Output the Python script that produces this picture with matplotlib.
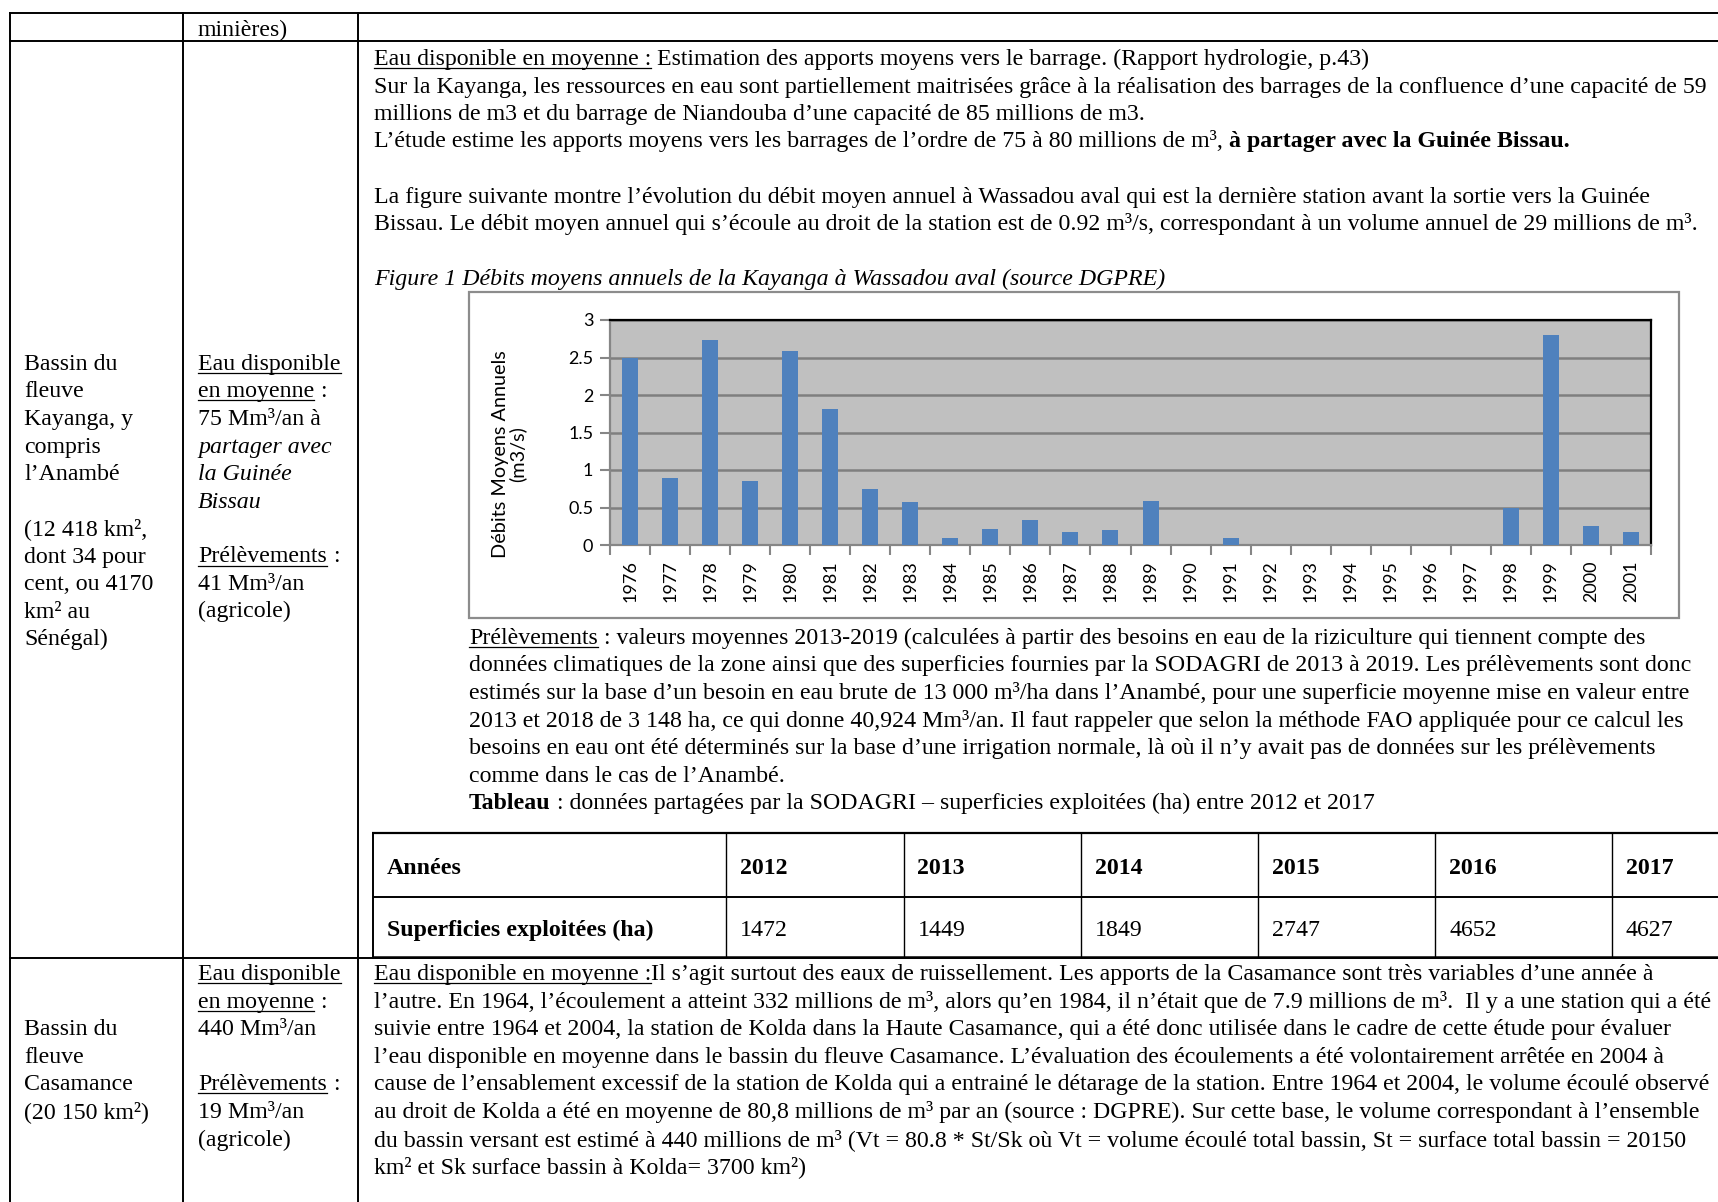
import numpy as np
import matplotlib
matplotlib.use("Agg")
import matplotlib.pyplot as plt
from matplotlib.lines import Line2D
from matplotlib.patches import Rectangle

# ---------------- data ----------------
years = ["1976", "1977", "1978", "1979", "1980", "1981", "1982", "1983", "1984",
         "1985", "1986", "1987", "1988", "1989", "1990", "1991", "1992", "1993",
         "1994", "1995", "1996", "1997", "1998", "1999", "2000", "2001"]
debits = [2.49, 0.90, 2.73, 0.85, 2.59, 1.82, 0.75, 0.58, 0.09,
          0.21, 0.34, 0.18, 0.20, 0.59, 0.0, 0.09, 0.0, 0.0,
          0.0, 0.0, 0.0, 0.0, 0.49, 2.80, 0.25, 0.18]
ytick_vals = [0, 0.5, 1, 1.5, 2, 2.5, 3]
ytick_labels = ["0", "0.5", "1", "1.5", "2", "2.5", "3"]

tab_header = ["Années", "2012", "2013", "2014", "2015", "2016", "2017"]
tab_row_label = "Superficies exploitées (ha)"
tab_values = ["1472", "1449", "1849", "2747", "4652", "4627"]

# ---------------- page setup ----------------
W, H = 1718, 1202
fig = plt.figure(figsize=(W / 100, H / 100), dpi=100)
fig.patch.set_facecolor("white")
renderer = fig.canvas.get_renderer()
SERIF = "Liberation Serif"


def fx(x):
    return x / W


def fy(y):
    return 1 - y / H


def hline(y, x0, x1, lw=1.4, color="black"):
    fig.add_artist(Line2D([fx(x0), fx(x1)], [fy(y), fy(y)], lw=lw, color=color,
                          transform=fig.transFigure, solid_capstyle="butt"))


def vline(x, y0, y1, lw=1.4, color="black"):
    fig.add_artist(Line2D([fx(x), fx(x)], [fy(y0), fy(y1)], lw=lw, color=color,
                          transform=fig.transFigure, solid_capstyle="butt"))


# fit base font size so that a reference line spans the measured width
_ref = ("Sur la Kayanga, les ressources en eau sont partiellement maitrisées grâce à la "
        "réalisation des barrages de la confluence d’une capacité de 59")
_t = fig.text(0, 0, _ref, fontsize=16, family=SERIF)
_w = _t.get_window_extent(renderer).width
_t.remove()
FS = 16 * 1334 / _w


def space_width(weight, style, fs):
    a = fig.text(0, 0, "a a", fontsize=fs, family=SERIF, weight=weight, style=style)
    b = fig.text(0, 0, "aa", fontsize=fs, family=SERIF, weight=weight, style=style)
    w = a.get_window_extent(renderer).width - b.get_window_extent(renderer).width
    a.remove()
    b.remove()
    return w


def seg_text(x, y, segs, fs=None):
    fs = fs or FS
    cur = x
    if isinstance(segs, str):
        segs = [(segs, "")]
    for text, st in segs:
        weight = "bold" if "b" in st else "normal"
        style = "italic" if "i" in st else "normal"
        sw = space_width(weight, style, fs)
        lead = len(text) - len(text.lstrip(" "))
        trail = len(text) - len(text.rstrip(" "))
        core = text.strip(" ")
        cur += lead * sw
        t = fig.text(fx(cur), fy(y), core, fontsize=fs, family=SERIF, weight=weight,
                     style=style, ha="left", va="baseline", color="black")
        bb = t.get_window_extent(renderer)
        if "u" in st:
            fig.add_artist(Line2D([fx(bb.x0), fx(bb.x1)], [fy(y + 3), fy(y + 3)],
                                  lw=0.9, color="black", transform=fig.transFigure))
        cur = bb.x1 + trail * sw


# ---------------- outer table grid ----------------
hline(13, 9, W)
hline(41, 9, W)
hline(958, 9, W)
vline(10, 12, H)
vline(183, 12, H)
vline(358, 12, H)

# row 1
seg_text(198, 36, "minières)")

# ---------------- Kayanga row ----------------
col1 = [(370, "Bassin du"), (397.5, "fleuve"), (425, "Kayanga, y"), (452.5, "compris"),
        (480, "l’Anambé"), (535, "(12 418 km²,"), (562.5, "dont 34 pour"),
        (590, "cent, ou 4170"), (617.5, "km² au"), (645, "Sénégal)")]
for y, s in col1:
    seg_text(24, y, s)

col2 = [(370, [("Eau disponible", "u")]),
        (397.5, [("en moyenne", "u"), (" :", "")]),
        (425, "75 Mm³/an à"),
        (452.5, [("partager avec", "i")]),
        (480, [("la Guinée", "i")]),
        (507.5, [("Bissau", "i")]),
        (562.5, [("Prélèvements", "u"), (" :", "")]),
        (590, "41 Mm³/an"),
        (617.5, "(agricole)")]
for y, s in col2:
    seg_text(198, y, s)

X3 = 374
top_lines = [
    (65, [("Eau disponible en moyenne :", "u"),
          (" Estimation des apports moyens vers le barrage. (Rapport hydrologie, p.43)", "")]),
    (92.5, "Sur la Kayanga, les ressources en eau sont partiellement maitrisées grâce à la "
           "réalisation des barrages de la confluence d’une capacité de 59"),
    (120, "millions de m3 et du barrage de Niandouba d’une capacité de 85 millions de m3."),
    (147.5, [("L’étude estime les apports moyens vers les barrages de l’ordre de 75 à 80 "
              "millions de m³, ", ""), ("à partager avec la Guinée Bissau.", "b")]),
    (202.5, "La figure suivante montre l’évolution du débit moyen annuel à Wassadou aval qui "
            "est la dernière station avant la sortie vers la Guinée"),
    (230, "Bissau. Le débit moyen annuel qui s’écoule au droit de la station est de 0.92 m³/s, "
          "correspondant à un volume annuel de 29 millions de m³."),
    (285, [("Figure 1 Débits moyens annuels de la Kayanga à Wassadou aval (source DGPRE)", "i")]),
]
for y, s in top_lines:
    seg_text(X3, y, s)

# ---------------- chart ----------------
fig.add_artist(Rectangle((fx(469), fy(618)), (1679 - 469) / W, (618 - 292) / H,
                         transform=fig.transFigure, fill=True, facecolor="white",
                         edgecolor="#8C8C8C", lw=1.6, zorder=0))

ax = fig.add_axes([fx(610), fy(545), (1651 - 610) / W, (545 - 320) / H])
ax.set_facecolor("#C0C0C0")
xpos = np.arange(len(years))
ax.bar(xpos, debits, width=0.4, color="#4F81BD", zorder=3)
ax.set_xlim(-0.5, len(years) - 0.5)
ax.set_ylim(0, 3)
ax.set_yticks(ytick_vals)
ax.set_yticklabels(ytick_labels, family="Lato", fontsize=13)
ax.set_xticks(xpos)
ax.set_xticklabels(years, rotation=90, family="Lato", fontsize=13)
ax.set_xticks(np.arange(len(years) + 1) - 0.5, minor=True)
ax.tick_params(axis="x", which="major", length=0, pad=11)
ax.tick_params(axis="x", which="minor", length=7, width=1.5, color="#868686", direction="out")
ax.tick_params(axis="y", which="major", length=7, width=1.5, color="#868686", direction="out", pad=5)
ax.yaxis.grid(True, color="#7F7F7F", lw=1.8, zorder=1)
ax.set_axisbelow(True)
for side in ["top", "right"]:
    ax.spines[side].set_color("black")
    ax.spines[side].set_linewidth(1.6)
for side in ["left", "bottom"]:
    ax.spines[side].set_color("#868686")
    ax.spines[side].set_linewidth(1.6)

fig.text(fx(509), fy(454), "Débits Moyens Annuels\n(m3/s)", rotation=90, ha="center",
         va="center", multialignment="center", family="Lato", fontsize=14.3,
         linespacing=1.0)

# ---------------- text after chart ----------------
X4 = 469
mid_lines = [
    (644, [("Prélèvements", "u"), (" : valeurs moyennes 2013-2019 (calculées à partir des "
           "besoins en eau de la riziculture qui tiennent compte des", "")]),
    (671.5, "données climatiques de la zone ainsi que des superficies fournies par la SODAGRI "
            "de 2013 à 2019. Les prélèvements sont donc"),
    (699, "estimés sur la base d’un besoin en eau brute de 13 000 m³/ha dans l’Anambé, pour "
          "une superficie moyenne mise en valeur entre"),
    (726.5, "2013 et 2018 de 3 148 ha, ce qui donne 40,924 Mm³/an. Il faut rappeler que selon "
            "la méthode FAO appliquée pour ce calcul les"),
    (754, "besoins en eau ont été déterminés sur la base d’une irrigation normale, là où il "
          "n’y avait pas de données sur les prélèvements"),
    (781.5, "comme dans le cas de l’Anambé."),
    (809, [("Tableau", "b"), (" : données partagées par la SODAGRI – superficies exploitées "
           "(ha) entre 2012 et 2017", "")]),
]
for y, s in mid_lines:
    seg_text(X4, y, s)

# ---------------- inner table ----------------
tx0 = 373
col_x = [373, 726, 903.5, 1080.5, 1258, 1435, 1612]
hline(833, tx0 - 1, W, lw=1.6)
hline(897, tx0, W, lw=1.4)
hline(957, tx0 - 1, W, lw=1.8)
for i, cx in enumerate(col_x):
    vline(cx, 833, 957, lw=1.4 if i == 0 else 1.0)

seg_text(col_x[0] + 14, 874, [(tab_header[0], "b")])
for i, h in enumerate(tab_header[1:]):
    seg_text(col_x[i + 1] + 14, 874, [(h, "b")])
seg_text(col_x[0] + 14, 936, [(tab_row_label, "b")])
for i, v in enumerate(tab_values):
    seg_text(col_x[i + 1] + 14, 936, v)

# ---------------- Casamance row ----------------
cas_col1 = [(1035.2, "Bassin du"), (1062.8, "fleuve"), (1090.4, "Casamance"),
            (1118, "(20 150 km²)")]
for y, s in cas_col1:
    seg_text(24, y, s)

cas_col2 = [(980, [("Eau disponible", "u")]),
            (1007.6, [("en moyenne", "u"), (" :", "")]),
            (1035.2, "440 Mm³/an"),
            (1090.4, [("Prélèvements", "u"), (" :", "")]),
            (1118, "19 Mm³/an"),
            (1145.6, "(agricole)")]
for y, s in cas_col2:
    seg_text(198, y, s)

cas_col3 = [
    (980, [("Eau disponible en moyenne :", "u"),
           ("Il s’agit surtout des eaux de ruissellement. Les apports de la Casamance sont "
            "très variables d’une année à", "")]),
    (1007.6, "l’autre. En 1964, l’écoulement a atteint 332 millions de m³, alors qu’en 1984, "
             "il n’était que de 7.9 millions de m³.  Il y a une station qui a été"),
    (1035.2, "suivie entre 1964 et 2004, la station de Kolda dans la Haute Casamance, qui a "
             "été donc utilisée dans le cadre de cette étude pour évaluer"),
    (1062.8, "l’eau disponible en moyenne dans le bassin du fleuve Casamance. L’évaluation "
             "des écoulements a été volontairement arrêtée en 2004 à"),
    (1090.4, "cause de l’ensablement excessif de la station de Kolda qui a entrainé le "
             "détarage de la station. Entre 1964 et 2004, le volume écoulé observé"),
    (1118, "au droit de Kolda a été en moyenne de 80,8 millions de m³ par an (source : "
           "DGPRE). Sur cette base, le volume correspondant à l’ensemble"),
    (1145.6, "du bassin versant est estimé à 440 millions de m³ (Vt = 80.8 * St/Sk où Vt = "
             "volume écoulé total bassin, St = surface total bassin = 20150"),
    (1173.2, "km² et Sk surface bassin à Kolda= 3700 km²)"),
]
for y, s in cas_col3:
    seg_text(X3, y, s)

fig.savefig("out.png", dpi=100, facecolor="white")
